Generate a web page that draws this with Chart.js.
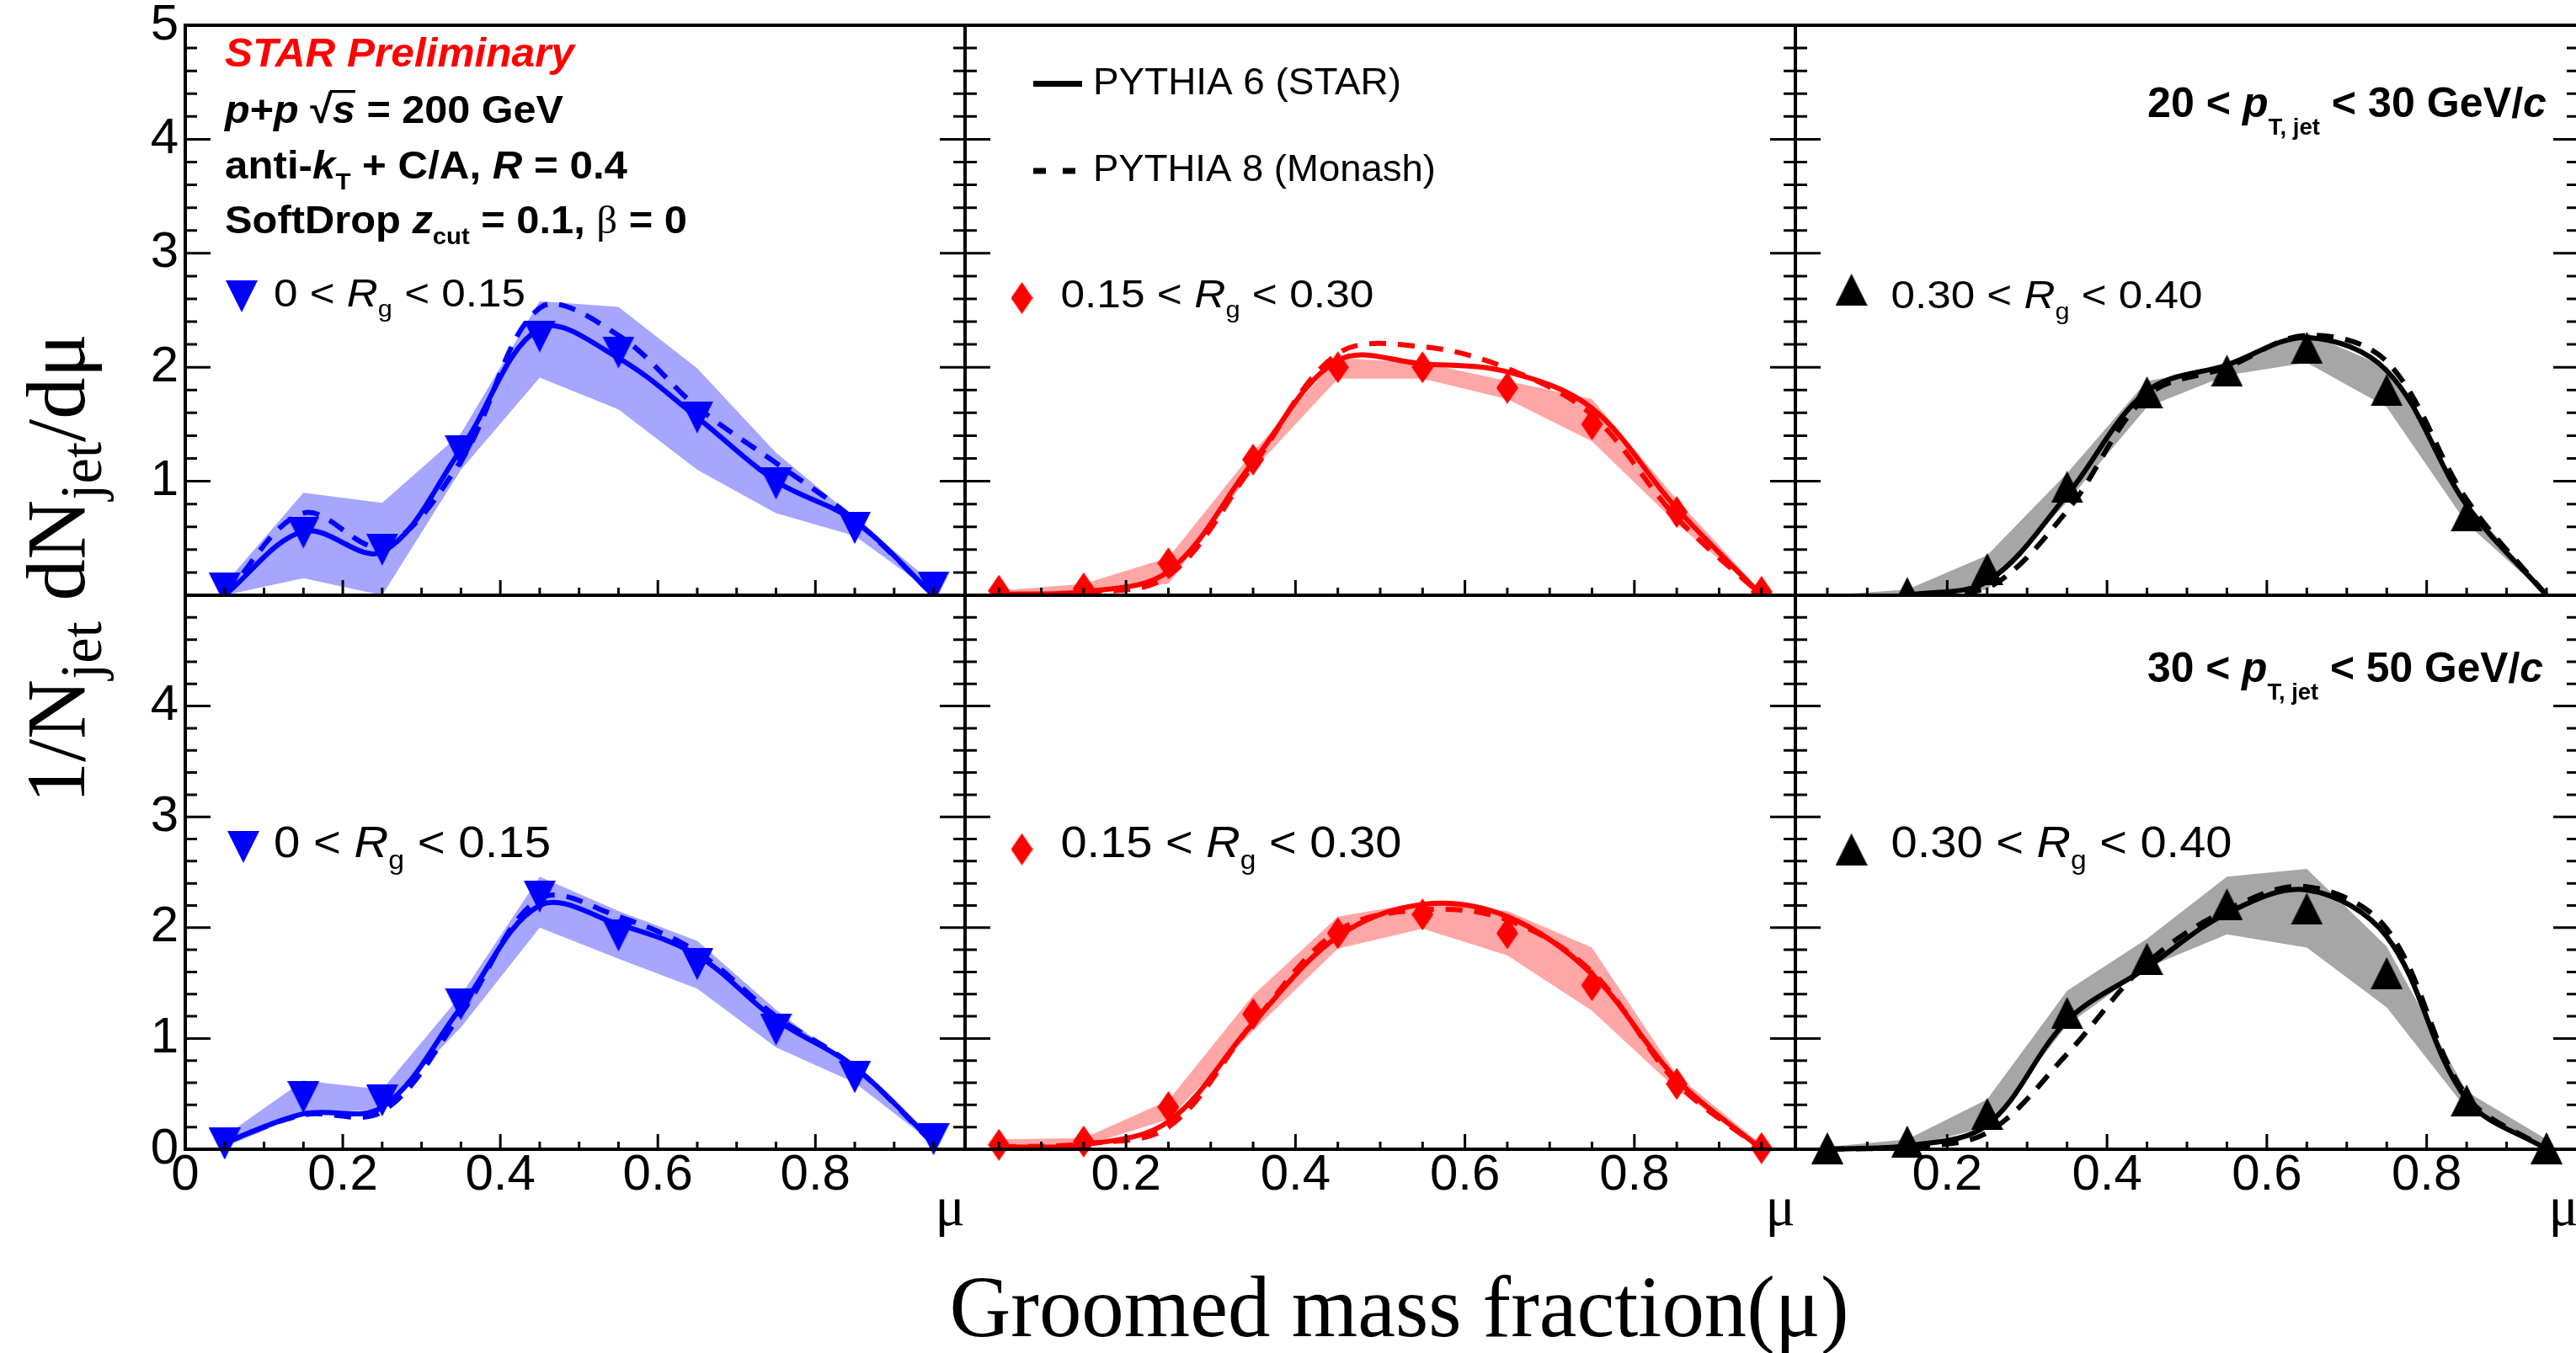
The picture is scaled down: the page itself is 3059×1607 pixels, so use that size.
<!DOCTYPE html>
<html>
<head>
<meta charset="utf-8">
<script src="https://cdn.jsdelivr.net/npm/chart.js@4.4.1/dist/chart.umd.min.js"></script>
<style>
  html, body { margin: 0; padding: 0; background: #fff; overflow: hidden; }
  #page { position: relative; width: 3059px; height: 1607px; overflow: hidden; background: #fff; }
  .panel { position: absolute; }
  #overlay { position: absolute; left: 0; top: 0; z-index: 10; }
</style>
</head>
<body>
<div id="page"><canvas id="overlay" width="3059" height="1607"></canvas></div>
<script>
// ---------- data: groomed mass fraction, bin centres ----------
const muBins = [0.05, 0.15, 0.25, 0.35, 0.45, 0.55, 0.65, 0.75, 0.85, 0.95];

// 20 < pT,jet < 30 GeV/c
const pt20Rg1 = [0.06, 0.55, 0.40, 1.26, 2.27, 2.13, 1.56, 0.98, 0.59, 0.07];
const pt20Rg1Lo = [0.00, 0.15, 0.00, 1.10, 1.91, 1.63, 1.10, 0.72, 0.52, 0.02];
const pt20Rg1Hi = [0.10, 0.90, 0.81, 1.42, 2.58, 2.53, 1.99, 1.25, 0.68, 0.10];
const pt20Rg1Py6 = [0.00, 0.56, 0.38, 1.28, 2.34, 2.08, 1.56, 1.00, 0.65, 0.00];
const pt20Rg1Py8 = [0.00, 0.72, 0.43, 1.18, 2.52, 2.28, 1.65, 1.16, 0.66, 0.00];

const pt20Rg2 = [0.04, 0.06, 0.28, 1.19, 2.00, 2.00, 1.82, 1.50, 0.73, 0.03];
const pt20Rg2Lo = [0.00, 0.02, 0.10, 1.10, 1.90, 1.90, 1.72, 1.35, 0.63, 0.00];
const pt20Rg2Hi = [0.04, 0.10, 0.33, 1.26, 2.08, 2.04, 1.88, 1.72, 0.84, 0.03];
const pt20Rg2Py6 = [0.01, 0.03, 0.21, 1.17, 2.06, 2.03, 1.96, 1.64, 0.76, 0.00];
const pt20Rg2Py8 = [0.00, 0.02, 0.17, 1.14, 2.12, 2.18, 1.99, 1.58, 0.68, 0.00];

const pt20Rg3 = [null, 0.02, 0.23, 0.95, 1.78, 1.97, 2.17, 1.80, 0.70, null];
const pt20Rg3Lo = [0.00, 0.00, 0.05, 0.82, 1.65, 1.93, 2.04, 1.65, 0.63, 0.00];
const pt20Rg3Hi = [0.00, 0.05, 0.35, 1.07, 1.88, 2.00, 2.30, 2.00, 0.82, 0.00];
const pt20Rg3Py6 = [null, 0.00, 0.12, 0.88, 1.79, 2.02, 2.26, 1.97, 0.79, 0.00];
const pt20Rg3Py8 = [null, 0.00, 0.06, 0.74, 1.75, 2.00, 2.28, 2.05, 0.84, 0.00];

// 30 < pT,jet < 50 GeV/c
const pt30Rg1 = [0.05, 0.47, 0.44, 1.31, 2.28, 1.93, 1.67, 1.08, 0.65, 0.09];
const pt30Rg1Lo = [0.02, 0.32, 0.36, 1.10, 2.00, 1.72, 1.45, 0.92, 0.60, 0.05];
const pt30Rg1Hi = [0.12, 0.62, 0.54, 1.39, 2.46, 2.15, 1.88, 1.26, 0.72, 0.12];
const pt30Rg1Py6 = [0.06, 0.32, 0.38, 1.28, 2.20, 2.03, 1.75, 1.17, 0.74, 0.06];
const pt30Rg1Py8 = [0.06, 0.31, 0.34, 1.22, 2.26, 2.10, 1.78, 1.20, 0.74, 0.05];

const pt30Rg2 = [0.04, 0.07, 0.38, 1.22, 1.95, 2.12, 1.95, 1.48, 0.59, 0.01];
const pt30Rg2Lo = [0.01, 0.03, 0.27, 1.07, 1.81, 1.99, 1.75, 1.25, 0.54, 0.00];
const pt30Rg2Hi = [0.09, 0.10, 0.44, 1.39, 2.10, 2.23, 2.15, 1.82, 0.67, 0.04];
const pt30Rg2Py6 = [0.02, 0.04, 0.25, 1.14, 1.92, 2.21, 2.10, 1.58, 0.63, 0.00];
const pt30Rg2Py8 = [0.02, 0.05, 0.20, 1.14, 1.97, 2.16, 2.07, 1.60, 0.60, 0.00];

const pt30Rg3 = [0.01, 0.07, 0.32, 1.23, 1.72, 2.21, 2.17, 1.59, 0.44, 0.01];
const pt30Rg3Lo = [0.00, 0.02, 0.20, 1.12, 1.64, 1.94, 1.82, 1.28, 0.36, 0.00];
const pt30Rg3Hi = [0.02, 0.09, 0.45, 1.43, 1.90, 2.46, 2.53, 1.83, 0.52, 0.09];
const pt30Rg3Py6 = [0.00, 0.03, 0.22, 1.16, 1.64, 2.13, 2.34, 1.92, 0.45, 0.00];
const pt30Rg3Py8 = [0.00, 0.02, 0.15, 0.86, 1.68, 2.16, 2.37, 1.99, 0.48, 0.00];

// tick labels
const xTicksFirst = [0, 0.2, 0.4, 0.6, 0.8];
const xTicksOther = [0.2, 0.4, 0.6, 0.8];
const yTicksTop = [1, 2, 3, 4, 5];
const yTicksBottom = [0, 1, 2, 3, 4];

// ---------- layout ----------
const colEdges = [[220, 1146], [1146, 2132], [2132, 3062]];
const rowEdges = [[30, 707], [707, 1365]];
const xRanges = [[0, 0.99], [0.01, 0.99], [0.01, 0.99]];
const SANS = '"Liberation Sans", Arial, sans-serif';
const SERIF = '"Liberation Serif", "Times New Roman", serif';

const BLUE = '#0000ff', RED = '#ff0000', BLACK = '#000000';

function markerCanvas(shape, color) {
  const c = document.createElement('canvas');
  const w = shape === 'diamond' ? 26 : 38, h = 38;
  c.width = w; c.height = h;
  const g = c.getContext('2d');
  g.fillStyle = color;
  g.beginPath();
  if (shape === 'down') { g.moveTo(0, 0); g.lineTo(w, 0); g.lineTo(w / 2, h); }
  else if (shape === 'up') { g.moveTo(w / 2, 0); g.lineTo(w, h); g.lineTo(0, h); }
  else { g.moveTo(w / 2, 0); g.lineTo(w, h / 2); g.lineTo(w / 2, h); g.lineTo(0, h / 2); }
  g.closePath();
  g.fill();
  return c;
}
const mkBlue = markerCanvas('down', BLUE);
const mkRed = markerCanvas('diamond', RED);
const mkBlack = markerCanvas('up', BLACK);

const panels = [
  { row: 0, col: 0, color: BLUE, band: 'rgba(0,0,255,0.35)', marker: mkBlue, d: pt20Rg1, lo: pt20Rg1Lo, hi: pt20Rg1Hi, py6: pt20Rg1Py6, py8: pt20Rg1Py8 },
  { row: 0, col: 1, color: RED, band: 'rgba(255,0,0,0.35)', marker: mkRed, d: pt20Rg2, lo: pt20Rg2Lo, hi: pt20Rg2Hi, py6: pt20Rg2Py6, py8: pt20Rg2Py8 },
  { row: 0, col: 2, color: BLACK, band: 'rgba(0,0,0,0.35)', marker: mkBlack, d: pt20Rg3, lo: pt20Rg3Lo, hi: pt20Rg3Hi, py6: pt20Rg3Py6, py8: pt20Rg3Py8 },
  { row: 1, col: 0, color: BLUE, band: 'rgba(0,0,255,0.35)', marker: mkBlue, d: pt30Rg1, lo: pt30Rg1Lo, hi: pt30Rg1Hi, py6: pt30Rg1Py6, py8: pt30Rg1Py8 },
  { row: 1, col: 1, color: RED, band: 'rgba(255,0,0,0.35)', marker: mkRed, d: pt30Rg2, lo: pt30Rg2Lo, hi: pt30Rg2Hi, py6: pt30Rg2Py6, py8: pt30Rg2Py8 },
  { row: 1, col: 2, color: BLACK, band: 'rgba(0,0,0,0.35)', marker: mkBlack, d: pt30Rg3, lo: pt30Rg3Lo, hi: pt30Rg3Hi, py6: pt30Rg3Py6, py8: pt30Rg3Py8 },
];

const pts = ys => muBins.map((x, i) => ({ x, y: ys[i] }));

// frame with inward ROOT-style ticks
const framePlugin = {
  id: 'frame',
  afterDatasetsDraw(chart) {
    const { ctx, chartArea: a, scales: { x, y } } = chart;
    ctx.save();
    ctx.strokeStyle = '#000';
    ctx.lineWidth = 3;
    ctx.beginPath();
    for (let i = 0; i <= 25; i++) {
      const py = y.getPixelForValue(i / 5);
      const len = i % 5 === 0 ? 30 : 14;
      ctx.moveTo(a.left, py); ctx.lineTo(a.left + len, py);
      ctx.moveTo(a.right, py); ctx.lineTo(a.right - len, py);
    }
    for (let i = 0; i <= 20; i++) {
      const v = i * 0.05;
      if (v < x.min - 1e-9 || v > x.max + 1e-9) continue;
      const px = x.getPixelForValue(v);
      const len = i % 4 === 0 ? 18 : 9;
      ctx.moveTo(px, a.bottom); ctx.lineTo(px, a.bottom - len);
    }
    ctx.stroke();
    ctx.lineWidth = 4;
    ctx.strokeRect(a.left, a.top, a.right - a.left, a.bottom - a.top);
    ctx.restore();
  }
};

const page = document.getElementById('page');
const overlay = document.getElementById('overlay');

panels.forEach(p => {
  const [L, R] = colEdges[p.col], [T, B] = rowEdges[p.row];
  const showY = p.col === 0, showX = p.row === 1;
  const mL = showY ? 220 : 40, mT = 40, mR = 40, mB = showX ? 110 : 40;
  const cv = document.createElement('canvas');
  cv.width = R - L + mL + mR;
  cv.height = B - T + mT + mB;
  cv.className = 'panel';
  cv.style.left = (L - mL) + 'px';
  cv.style.top = (T - mT) + 'px';
  page.insertBefore(cv, overlay);

  // top row pads cut markers at their lower edge, bottom row lets them hang below
  const clip = p.row === 0 ? { left: false, top: false, right: false, bottom: 0 } : false;
  const line = { borderColor: p.color, borderWidth: 6, pointRadius: 0, tension: 0.35, clip, spanGaps: false };

  new Chart(cv, {
    type: 'line',
    data: {
      datasets: [
        { data: pts(p.d), showLine: false, pointStyle: p.marker, pointRadius: 19, pointBorderWidth: 0, clip },
        { ...line, data: pts(p.py6) },
        { ...line, data: pts(p.py8), borderDash: [20, 14] },
        { data: pts(p.hi), borderWidth: 0, borderColor: 'transparent', pointRadius: 0, tension: 0, fill: '+1', backgroundColor: p.band },
        { data: pts(p.lo), borderWidth: 0, borderColor: 'transparent', pointRadius: 0, tension: 0, fill: false },
      ]
    },
    options: {
      responsive: false,
      animation: false,
      devicePixelRatio: 1,
      events: [],
      layout: { padding: { left: showY ? 0 : mL, top: mT, right: mR, bottom: showX ? 0 : mB } },
      plugins: { legend: { display: false }, tooltip: { enabled: false } },
      scales: {
        x: {
          type: 'linear', min: xRanges[p.col][0], max: xRanges[p.col][1],
          display: showX,
          grid: { display: false, drawTicks: false },
          border: { display: false },
          ticks: {
            color: '#000', padding: 1, autoSkip: false, maxRotation: 0,
            font: { family: SANS, size: 60, lineHeight: 1 },
            callback: v => v === 0 ? '0' : v.toFixed(1)
          },
          afterBuildTicks: s => { s.ticks = (p.col === 0 ? xTicksFirst : xTicksOther).map(v => ({ value: v })); },
          afterFit: s => { if (showX) s.height = mB; }
        },
        y: {
          type: 'linear', min: 0, max: 5,
          display: showY,
          grid: { display: false, drawTicks: false },
          border: { display: false },
          ticks: {
            color: '#000', padding: 8, autoSkip: false,
            font: { family: SANS, size: 60, lineHeight: 1 },
            callback: v => String(v)
          },
          afterBuildTicks: s => { s.ticks = (p.row === 0 ? yTicksTop : yTicksBottom).map(v => ({ value: v })); },
          afterFit: s => { if (showY) s.width = mL; }
        }
      }
    },
    plugins: [framePlugin]
  });
});

// ---------- text layer ----------
const ctx = overlay.getContext('2d');

// parts: [text, flags]; i = italic, s = subscript, g = serif glyph, n = not bold, o = overbar
function rich(parts, x, y, size, opt = {}) {
  const fam = opt.family || SANS;
  const segs = parts.map(part => {
    const [t, f = ''] = typeof part === 'string' ? [part, ''] : part;
    const sz = f.includes('s') ? size * (opt.subScale || 0.6) : size;
    const bold = opt.bold && !f.includes('n') ? 'bold ' : '';
    const font = (f.includes('i') ? 'italic ' : '') + bold + sz + 'px ' + (f.includes('g') ? SERIF : fam);
    ctx.font = font;
    return { t, f, font, w: ctx.measureText(t).width, dy: f.includes('s') ? size * (opt.subShift || 0.27) : 0 };
  });
  const natural = segs.reduce((s, g) => s + g.w, 0);
  const k = opt.width ? opt.width / natural : 1;
  ctx.save();
  ctx.translate(x, y);
  if (opt.rotate) ctx.rotate(opt.rotate);
  ctx.scale(k, 1);
  ctx.fillStyle = opt.color || '#000';
  ctx.textBaseline = 'alphabetic';
  ctx.textAlign = 'left';
  let cx = 0;
  segs.forEach(g => {
    ctx.font = g.font;
    ctx.fillText(g.t, cx, g.dy);
    if (g.f.includes('o')) ctx.fillRect(cx - 3, -size * 0.83, g.w + 3, size * 0.07);
    cx += g.w;
  });
  ctx.restore();
}

function marker(img, x, y) {
  ctx.drawImage(img, x - img.width / 2, y - img.height / 2);
}

// run conditions
rich([['STAR Preliminary', 'i']], 267, 79, 48, { bold: true, color: RED, width: 415 });
rich([['p', 'i'], '+', ['p', 'i'], ' ', '\u221A', ['s', 'io'], ' = 200 GeV'], 267, 146, 47, { bold: true, width: 402 });
rich(['anti-', ['k', 'i'], ['T', 's'], ' + C/A, ', ['R', 'i'], ' = 0.4'], 267, 212, 47, { bold: true, width: 478 });
rich(['SoftDrop ', ['z', 'i'], ['cut', 's'], ' = 0.1, ', ['\u03B2', 'gn'], ' = 0'], 267, 277, 47, { bold: true, width: 549 });

// model legend
ctx.save();
ctx.strokeStyle = '#000';
ctx.lineWidth = 7;
ctx.beginPath(); ctx.moveTo(1227, 99.5); ctx.lineTo(1285, 99.5); ctx.stroke();
ctx.setLineDash([15, 20]);
ctx.beginPath(); ctx.moveTo(1227, 203); ctx.lineTo(1277, 203); ctx.stroke();
ctx.restore();
rich(['PYTHIA 6 (STAR)'], 1298, 112, 45, { width: 366 });
rich(['PYTHIA 8 (Monash)'], 1298, 215, 45, { width: 407 });

// jet pT bins
rich(['20 < ', ['p', 'i'], ['T, jet', 's'], ' < 30 GeV/', ['c', 'i']], 2550, 139, 50, { bold: true, width: 474, subScale: 0.55, subShift: 0.42 });
rich(['30 < ', ['p', 'i'], ['T, jet', 's'], ' < 50 GeV/', ['c', 'i']], 2550, 810, 50, { bold: true, width: 470, subScale: 0.55, subShift: 0.42 });

// Rg bins
const rgLabels = [
  { img: mkBlue, mx: 287, my: 352, tx: 325, ty: 363.5, txt: ['0 < ', ['R', 'i'], ['g', 's'], ' < 0.15'], size: 47, w: 299 },
  { img: mkRed, mx: 1213.5, my: 354, tx: 1259.4, ty: 364.5, txt: ['0.15 < ', ['R', 'i'], ['g', 's'], ' < 0.30'], size: 47, w: 372 },
  { img: mkBlack, mx: 2198.6, my: 344, tx: 2245.5, ty: 366, txt: ['0.30 < ', ['R', 'i'], ['g', 's'], ' < 0.40'], size: 47, w: 370 },
  { img: mkBlue, mx: 289, my: 1006, tx: 325, ty: 1018, txt: ['0 < ', ['R', 'i'], ['g', 's'], ' < 0.15'], size: 52, w: 329 },
  { img: mkRed, mx: 1213.5, my: 1008.7, tx: 1259.4, ty: 1018.3, txt: ['0.15 < ', ['R', 'i'], ['g', 's'], ' < 0.30'], size: 52, w: 405 },
  { img: mkBlack, mx: 2198.6, my: 1008.7, tx: 2245.5, ty: 1018.3, txt: ['0.30 < ', ['R', 'i'], ['g', 's'], ' < 0.40'], size: 52, w: 405 },
];
rgLabels.forEach(l => {
  marker(l.img, l.mx, l.my);
  rich(l.txt, l.tx, l.ty, l.size, { width: l.w });
});

// per-pad axis titles
ctx.font = '66px ' + SERIF;
ctx.textAlign = 'right';
ctx.fillStyle = '#000';
colEdges.forEach(([, R]) => ctx.fillText('\u03BC', R, 1455));

// global axis titles
rich(['Groomed mass fraction(\u03BC)'], 1127.5, 1587, 104, { family: SERIF, width: 1068 });
rich(['1/N', ['jet', 's'], ' dN', ['jet', 's'], '/d\u03BC'], 100, 954, 100, { family: SERIF, width: 558, rotate: -Math.PI / 2, subScale: 0.7, subShift: 0.2 });
</script>
</body>
</html>
